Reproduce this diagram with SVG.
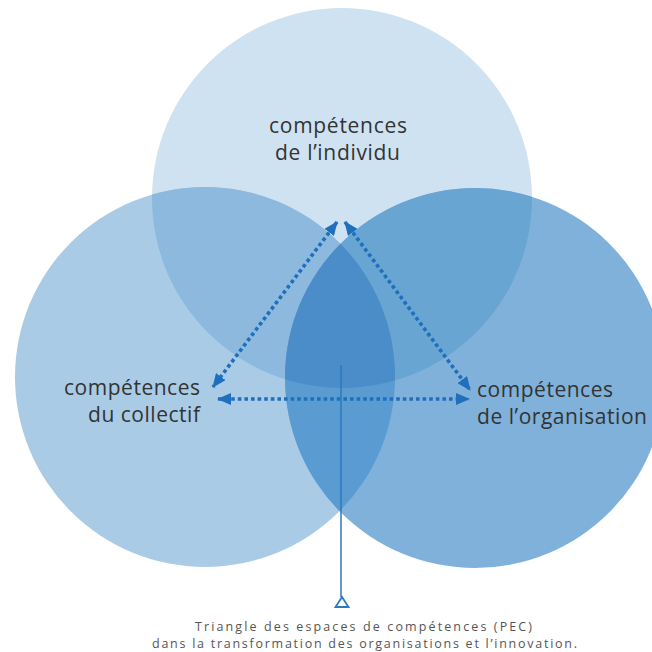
<svg xmlns="http://www.w3.org/2000/svg" width="652" height="652" viewBox="0 0 652 652">
<defs>
<style>
.lbl{font-family:"Open Sans",Lato,"Liberation Sans",sans-serif;font-size:21px;fill:#333;}
.cap{font-family:"Open Sans",Lato,"Liberation Sans",sans-serif;font-size:12.5px;fill:#555;text-anchor:middle;}
.dot{fill:none;stroke:#1f6fbd;stroke-width:3.6;stroke-dasharray:3.6 3;}
</style>
<clipPath id="cTop"><circle cx="342" cy="198" r="190"/></clipPath>
<clipPath id="cLeft"><circle cx="205" cy="377" r="190"/></clipPath>
<clipPath id="cRight"><circle cx="475" cy="378" r="190"/></clipPath>
<marker id="ah" viewBox="0 0 14 12" refX="13" refY="6" markerWidth="14" markerHeight="12" markerUnits="userSpaceOnUse" orient="auto-start-reverse">
<path d="M0,0 L14,6 L0,12 Z" fill="#1f6fbd"/>
</marker>
</defs>
<rect width="652" height="652" fill="#ffffff"/>
<g id="circle-individu">
<circle cx="342" cy="198" r="190" fill="#cfe2f1"/>
</g>
<g id="circle-collectif">
<circle cx="205" cy="377" r="190" fill="#a9cbe6"/>
</g>
<g id="circle-organisation">
<circle cx="475" cy="378" r="190" fill="#7fb1da"/>
</g>
<g id="overlaps">
<circle cx="205" cy="377" r="190" fill="#8cb9dd" clip-path="url(#cTop)"/>
<circle cx="475" cy="378" r="190" fill="#68a5d3" clip-path="url(#cTop)"/>
<circle cx="475" cy="378" r="190" fill="#5a9cd2" clip-path="url(#cLeft)"/>
<g clip-path="url(#cTop)"><circle cx="475" cy="378" r="190" fill="#4a8dc8" clip-path="url(#cLeft)"/></g>
</g>
<g id="connectors">
<line class="dot" x1="337" y1="222" x2="213" y2="387" marker-start="url(#ah)" marker-end="url(#ah)"/>
<line class="dot" x1="345" y1="222" x2="470" y2="390" marker-start="url(#ah)" marker-end="url(#ah)"/>
<line class="dot" x1="218" y1="399" x2="469" y2="399" marker-start="url(#ah)" marker-end="url(#ah)"/>
<line x1="341" y1="365" x2="341" y2="597" stroke="#2a7ac0" stroke-width="1.5"/>
<path d="M342,597 L335.5,607 L348.5,607 Z" fill="#ffffff" stroke="#2a7ac0" stroke-width="1.8" stroke-linejoin="miter"/>
</g>
<g id="label-individu">
<text class="lbl" x="269" y="133" textLength="138" lengthAdjust="spacing">compétences</text>
<text class="lbl" x="275" y="160" textLength="125" lengthAdjust="spacing">de l’individu</text>
</g>
<g id="label-collectif">
<text class="lbl" x="64" y="395" textLength="136" lengthAdjust="spacing">compétences</text>
<text class="lbl" x="88" y="422" textLength="112" lengthAdjust="spacing">du collectif</text>
</g>
<g id="label-organisation">
<text class="lbl" x="477" y="397" textLength="136" lengthAdjust="spacing">compétences</text>
<text class="lbl" x="477" y="424" textLength="170" lengthAdjust="spacing">de l’organisation</text>
</g>
<g id="caption">
<text class="cap" x="363.5" y="631" textLength="337" lengthAdjust="spacing">Triangle des espaces de compétences (PEC)</text>
<text class="cap" x="364.5" y="648" textLength="425" lengthAdjust="spacing">dans la transformation des organisations et l’innovation.</text>
</g>
</svg>
